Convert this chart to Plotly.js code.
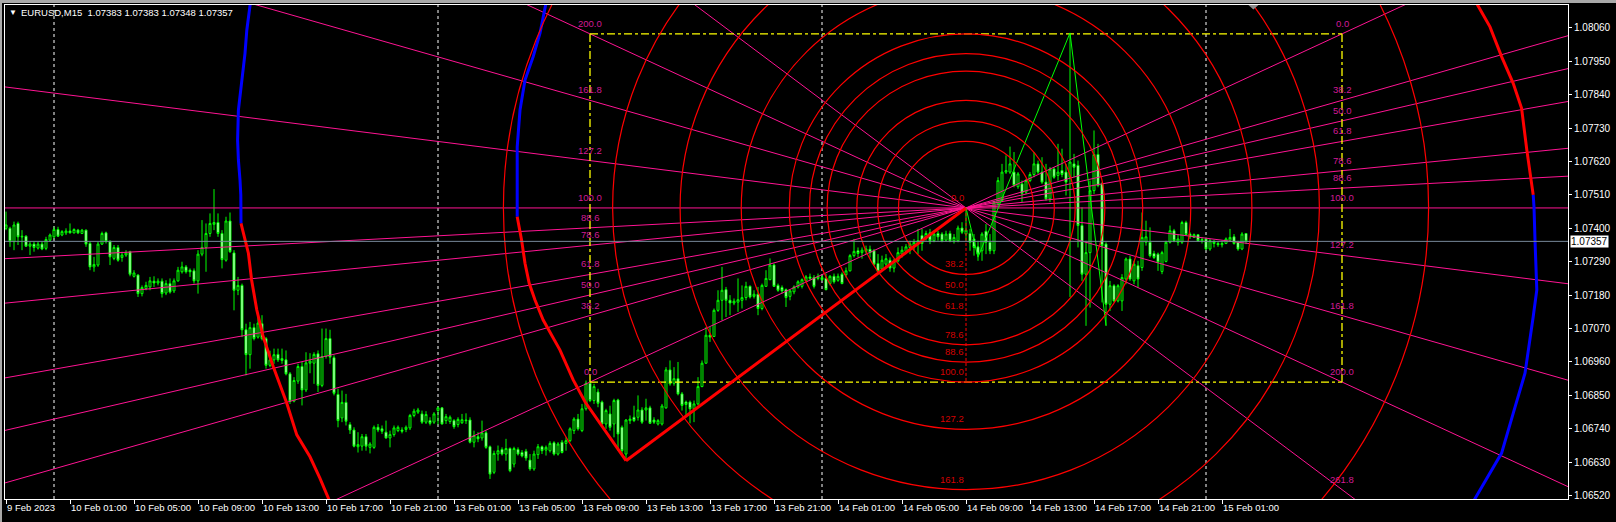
<!DOCTYPE html>
<html><head><meta charset="utf-8">
<script src="https://cdn.plot.ly/plotly-3.0.1.min.js"></script>
<style>html,body{margin:0;padding:0;background:#000;overflow:hidden}#chart{width:1616px;height:522px}</style>
</head><body><div id="chart"></div>
<script>
const SYMBOL = "EURUSD,M15";
const TICK_LABELS = ["9 Feb 2023","10 Feb 01:00","10 Feb 05:00","10 Feb 09:00","10 Feb 13:00","10 Feb 17:00","10 Feb 21:00","13 Feb 01:00","13 Feb 05:00","13 Feb 09:00","13 Feb 13:00","13 Feb 17:00","13 Feb 21:00","14 Feb 01:00","14 Feb 05:00","14 Feb 09:00","14 Feb 13:00","14 Feb 17:00","14 Feb 21:00","15 Feb 01:00"];
const TICK_STEP_BARS = 16;
const DAY_SEPARATOR_BARS = [12,108,204,300];

const OPEN = [
1.07400,1.07400,1.07356,1.07416,1.07374,1.07374,1.07341,1.07348,1.07335,1.07348,
1.07334,1.07361,1.07372,1.07396,1.07378,1.07385,1.07391,1.07385,1.07394,1.07383,
1.07394,1.07350,1.07273,1.07279,1.07348,1.07385,1.07356,1.07301,1.07337,1.07304,
1.07312,1.07323,1.07242,1.07246,1.07185,1.07202,1.07207,1.07226,1.07220,1.07226,
1.07187,1.07218,1.07194,1.07227,1.07257,1.07273,1.07262,1.07260,1.07227,1.07315,
1.07337,1.07383,1.07413,1.07419,1.07383,1.07295,1.07424,1.07319,1.07196,1.07212,
1.07066,1.06984,1.07073,1.07042,1.07086,1.07037,1.06949,1.06967,1.06985,1.06971,
1.06967,1.06921,1.06831,1.06897,1.06945,1.06868,1.06956,1.06956,1.06987,1.06883,
1.06978,1.07037,1.06974,1.06853,1.06776,1.06827,1.06754,1.06736,1.06681,1.06683,
1.06714,1.06679,1.06679,1.06745,1.06740,1.06729,1.06710,1.06721,1.06734,1.06736,
1.06738,1.06743,1.06784,1.06795,1.06789,1.06762,1.06767,1.06762,1.06800,1.06809,
1.06767,1.06764,1.06767,1.06754,1.06760,1.06769,1.06769,1.06696,1.06714,1.06710,
1.06727,1.06681,1.06597,1.06657,1.06672,1.06657,1.06675,1.06624,1.06672,1.06662,
1.06666,1.06637,1.06608,1.06655,1.06681,1.06670,1.06668,1.06694,1.06657,1.06696,
1.06692,1.06701,1.06734,1.06772,1.06734,1.06806,1.06890,1.06833,1.06861,1.06828,
1.06756,1.06789,1.06756,1.06835,1.06745,1.06657,1.06767,1.06778,1.06778,1.06802,
1.06802,1.06809,1.06769,1.06756,1.06756,1.06809,1.06934,1.06890,1.06905,1.06855,
1.06828,1.06828,1.06806,1.06822,1.06879,1.06956,1.07048,1.07044,1.07130,1.07163,
1.07198,1.07163,1.07154,1.07157,1.07163,1.07172,1.07209,1.07176,1.07183,1.07136,
1.07209,1.07231,1.07279,1.07212,1.07205,1.07198,1.07176,1.07191,1.07207,1.07209,
1.07227,1.07240,1.07238,1.07235,1.07238,1.07235,1.07218,1.07242,1.07229,1.07249,
1.07247,1.07260,1.07310,1.07326,1.07320,1.07324,1.07331,1.07326,1.07284,1.07266,
1.07282,1.07295,1.07269,1.07293,1.07315,1.07324,1.07337,1.07343,1.07350,1.07376,
1.07368,1.07385,1.07359,1.07383,1.07381,1.07361,1.07383,1.07359,1.07359,1.07401,
1.07381,1.07383,1.07365,1.07339,1.07326,1.07390,1.07354,1.07326,1.07480,1.07491,
1.07585,1.07585,1.07585,1.07537,1.07546,1.07519,1.07557,1.07577,1.07612,1.07585,
1.07552,1.07497,1.07595,1.07574,1.07590,1.07585,1.07568,1.07612,1.07607,1.07409,
1.07249,1.07320,1.07524,1.07643,1.07546,1.07348,1.07150,1.07211,1.07161,1.07161,
1.07233,1.07299,1.07227,1.07277,1.07271,1.07354,1.07354,1.07317,1.07315,1.07258,
1.07291,1.07354,1.07392,1.07354,1.07354,1.07419,1.07381,1.07370,1.07379,1.07359,
1.07365,1.07332,1.07357,1.07350,1.07346,1.07350,1.07361,1.07372,1.07354,1.07332,1.07383];
const HIGH = [
1.07455,1.07405,1.07422,1.07422,1.07394,1.07377,1.07356,1.07356,1.07356,1.07356,
1.07372,1.07383,1.07405,1.07405,1.07394,1.07400,1.07416,1.07400,1.07398,1.07398,
1.07396,1.07356,1.07306,1.07356,1.07389,1.07389,1.07361,1.07345,1.07345,1.07323,
1.07328,1.07326,1.07262,1.07249,1.07212,1.07224,1.07240,1.07242,1.07235,1.07235,
1.07229,1.07235,1.07235,1.07273,1.07290,1.07279,1.07268,1.07268,1.07328,1.07427,
1.07416,1.07449,1.07529,1.07449,1.07394,1.07438,1.07452,1.07328,1.07240,1.07218,
1.07086,1.07092,1.07086,1.07108,1.07114,1.07042,1.06997,1.07004,1.07004,1.07004,
1.06998,1.06927,1.06910,1.06954,1.06960,1.06992,1.06989,1.06992,1.06998,1.07070,
1.07070,1.07066,1.06982,1.06872,1.06866,1.06855,1.06762,1.06745,1.06729,1.06723,
1.06723,1.06696,1.06751,1.06756,1.06751,1.06767,1.06734,1.06751,1.06751,1.06745,
1.06751,1.06789,1.06806,1.06809,1.06800,1.06798,1.06778,1.06795,1.06813,1.06811,
1.06789,1.06784,1.06772,1.06778,1.06789,1.06791,1.06778,1.06734,1.06729,1.06767,
1.06734,1.06685,1.06668,1.06685,1.06679,1.06707,1.06679,1.06681,1.06679,1.06670,
1.06674,1.06657,1.06668,1.06690,1.06685,1.06685,1.06699,1.06699,1.06696,1.06703,
1.06712,1.06745,1.06778,1.06789,1.06822,1.06899,1.06899,1.06888,1.06872,1.06833,
1.06806,1.06816,1.06839,1.06839,1.06751,1.06772,1.06784,1.06816,1.06850,1.06811,
1.06839,1.06816,1.06778,1.06772,1.06822,1.06943,1.06965,1.06943,1.06960,1.06861,
1.06833,1.06833,1.06833,1.06910,1.06965,1.07075,1.07075,1.07136,1.07196,1.07273,
1.07207,1.07180,1.07169,1.07235,1.07212,1.07224,1.07212,1.07196,1.07207,1.07218,
1.07262,1.07301,1.07284,1.07218,1.07212,1.07202,1.07198,1.07212,1.07229,1.07235,
1.07246,1.07251,1.07246,1.07251,1.07246,1.07251,1.07246,1.07251,1.07251,1.07255,
1.07271,1.07315,1.07365,1.07337,1.07337,1.07343,1.07343,1.07332,1.07315,1.07310,
1.07315,1.07304,1.07299,1.07337,1.07341,1.07348,1.07359,1.07365,1.07398,1.07398,
1.07392,1.07398,1.07392,1.07392,1.07387,1.07392,1.07392,1.07381,1.07409,1.07420,
1.07467,1.07398,1.07381,1.07359,1.07387,1.07414,1.07381,1.07491,1.07568,1.07612,
1.07640,1.07669,1.07651,1.07585,1.07557,1.07563,1.07585,1.07651,1.07623,1.07634,
1.07612,1.07601,1.07601,1.07678,1.07662,1.07612,1.08043,1.07645,1.07623,1.07469,
1.07359,1.07557,1.07722,1.07678,1.07552,1.07354,1.07227,1.07216,1.07216,1.07249,
1.07304,1.07310,1.07293,1.07293,1.07452,1.07425,1.07403,1.07326,1.07320,1.07326,
1.07359,1.07409,1.07398,1.07381,1.07425,1.07425,1.07387,1.07383,1.07381,1.07370,
1.07370,1.07365,1.07361,1.07357,1.07359,1.07370,1.07398,1.07381,1.07359,1.07387,1.07383];
const LOW = [
1.07394,1.07339,1.07328,1.07345,1.07328,1.07339,1.07312,1.07323,1.07330,1.07328,
1.07328,1.07356,1.07367,1.07372,1.07374,1.07378,1.07383,1.07383,1.07381,1.07381,
1.07339,1.07262,1.07257,1.07273,1.07345,1.07350,1.07279,1.07295,1.07290,1.07290,
1.07306,1.07242,1.07238,1.07174,1.07176,1.07196,1.07196,1.07207,1.07212,1.07172,
1.07180,1.07185,1.07187,1.07224,1.07251,1.07251,1.07240,1.07218,1.07185,1.07308,
1.07257,1.07372,1.07394,1.07372,1.07268,1.07290,1.07319,1.07130,1.07180,1.07042,
1.06916,1.06938,1.07031,1.07037,1.07031,1.06938,1.06943,1.06954,1.06960,1.06954,
1.06916,1.06822,1.06827,1.06888,1.06817,1.06861,1.06923,1.06888,1.06861,1.06877,
1.06971,1.06954,1.06850,1.06745,1.06762,1.06751,1.06723,1.06679,1.06662,1.06668,
1.06668,1.06659,1.06674,1.06729,1.06723,1.06707,1.06679,1.06714,1.06729,1.06725,
1.06729,1.06736,1.06778,1.06789,1.06756,1.06756,1.06751,1.06756,1.06754,1.06754,
1.06756,1.06756,1.06740,1.06745,1.06756,1.06756,1.06692,1.06679,1.06696,1.06701,
1.06674,1.06575,1.06591,1.06635,1.06652,1.06635,1.06597,1.06613,1.06652,1.06646,
1.06635,1.06602,1.06602,1.06641,1.06657,1.06652,1.06662,1.06652,1.06652,1.06659,
1.06668,1.06696,1.06723,1.06734,1.06729,1.06800,1.06828,1.06822,1.06811,1.06751,
1.06740,1.06734,1.06712,1.06668,1.06657,1.06635,1.06756,1.06762,1.06767,1.06756,
1.06767,1.06756,1.06756,1.06751,1.06751,1.06806,1.06882,1.06882,1.06850,1.06800,
1.06784,1.06758,1.06762,1.06817,1.06877,1.06954,1.07026,1.07042,1.07125,1.07097,
1.07108,1.07114,1.07147,1.07125,1.07136,1.07163,1.07169,1.07169,1.07114,1.07130,
1.07207,1.07229,1.07207,1.07191,1.07185,1.07141,1.07163,1.07183,1.07202,1.07202,
1.07224,1.07229,1.07202,1.07229,1.07227,1.07196,1.07212,1.07218,1.07224,1.07216,
1.07238,1.07258,1.07304,1.07304,1.07300,1.07315,1.07304,1.07277,1.07255,1.07260,
1.07271,1.07257,1.07255,1.07288,1.07304,1.07315,1.07315,1.07326,1.07315,1.07326,
1.07359,1.07348,1.07354,1.07359,1.07354,1.07357,1.07354,1.07350,1.07354,1.07381,
1.07359,1.07326,1.07310,1.07293,1.07293,1.07315,1.07315,1.07315,1.07475,1.07486,
1.07579,1.07579,1.07535,1.07530,1.07486,1.07513,1.07552,1.07568,1.07579,1.07546,
1.07491,1.07486,1.07563,1.07557,1.07568,1.07508,1.07174,1.07568,1.07337,1.07227,
1.07079,1.07139,1.07513,1.07535,1.07156,1.07079,1.07128,1.07156,1.07156,1.07128,
1.07216,1.07227,1.07216,1.07205,1.07260,1.07343,1.07304,1.07299,1.07260,1.07249,
1.07288,1.07350,1.07354,1.07343,1.07348,1.07376,1.07365,1.07368,1.07357,1.07350,
1.07328,1.07326,1.07337,1.07339,1.07337,1.07348,1.07357,1.07346,1.07326,1.07328,1.07348];
const CLOSE = [
1.07411,1.07356,1.07411,1.07372,1.07372,1.07341,1.07348,1.07337,1.07348,1.07332,
1.07363,1.07378,1.07396,1.07374,1.07389,1.07391,1.07385,1.07396,1.07385,1.07394,
1.07348,1.07273,1.07281,1.07348,1.07383,1.07356,1.07306,1.07337,1.07295,1.07312,
1.07319,1.07249,1.07253,1.07185,1.07205,1.07212,1.07227,1.07220,1.07226,1.07185,
1.07218,1.07190,1.07227,1.07262,1.07273,1.07257,1.07257,1.07227,1.07315,1.07337,
1.07383,1.07416,1.07419,1.07383,1.07297,1.07424,1.07323,1.07196,1.07212,1.07066,
1.06984,1.07073,1.07037,1.07088,1.07037,1.06949,1.06967,1.06984,1.06967,1.06965,
1.06921,1.06831,1.06899,1.06945,1.06868,1.06957,1.06963,1.06985,1.06883,1.06978,
1.07037,1.06976,1.06857,1.06767,1.06827,1.06765,1.06736,1.06683,1.06688,1.06714,
1.06683,1.06690,1.06745,1.06736,1.06732,1.06710,1.06721,1.06743,1.06745,1.06732,
1.06745,1.06784,1.06798,1.06802,1.06762,1.06787,1.06758,1.06789,1.06809,1.06756,
1.06780,1.06778,1.06747,1.06771,1.06770,1.06767,1.06696,1.06718,1.06707,1.06727,
1.06679,1.06591,1.06659,1.06668,1.06657,1.06675,1.06602,1.06675,1.06657,1.06651,
1.06644,1.06608,1.06657,1.06681,1.06668,1.06679,1.06692,1.06657,1.06690,1.06662,
1.06701,1.06740,1.06772,1.06740,1.06806,1.06890,1.06833,1.06879,1.06824,1.06756,
1.06800,1.06745,1.06833,1.06723,1.06668,1.06769,1.06772,1.06767,1.06802,1.06762,
1.06809,1.06758,1.06762,1.06767,1.06815,1.06934,1.06888,1.06905,1.06855,1.06817,
1.06820,1.06806,1.06822,1.06879,1.06956,1.07048,1.07042,1.07130,1.07163,1.07196,
1.07163,1.07154,1.07160,1.07165,1.07172,1.07209,1.07174,1.07183,1.07136,1.07212,
1.07235,1.07279,1.07209,1.07196,1.07194,1.07172,1.07194,1.07207,1.07224,1.07231,
1.07240,1.07235,1.07209,1.07242,1.07231,1.07198,1.07242,1.07224,1.07242,1.07218,
1.07260,1.07310,1.07324,1.07317,1.07328,1.07332,1.07320,1.07282,1.07258,1.07295,
1.07300,1.07269,1.07291,1.07320,1.07328,1.07339,1.07348,1.07354,1.07359,1.07350,
1.07383,1.07359,1.07381,1.07372,1.07359,1.07381,1.07359,1.07370,1.07401,1.07387,
1.07394,1.07354,1.07337,1.07315,1.07381,1.07354,1.07326,1.07486,1.07557,1.07585,
1.07590,1.07612,1.07541,1.07579,1.07515,1.07557,1.07577,1.07612,1.07585,1.07552,
1.07497,1.07595,1.07568,1.07585,1.07577,1.07552,1.07618,1.07601,1.07409,1.07249,
1.07320,1.07524,1.07643,1.07541,1.07343,1.07150,1.07211,1.07161,1.07211,1.07238,
1.07299,1.07233,1.07282,1.07233,1.07370,1.07372,1.07310,1.07304,1.07288,1.07320,
1.07354,1.07392,1.07359,1.07365,1.07419,1.07379,1.07372,1.07379,1.07359,1.07363,
1.07332,1.07359,1.07350,1.07346,1.07350,1.07365,1.07370,1.07350,1.07332,1.07381,1.07357];

// Fibonacci fan / arcs
const FIB_LEVELS = [0,38.2,50,61.8,78.6,88.6,100,127.2,161.8,200,261.8];
const ARC_LEVELS = [38.2,50,61.8,78.6,88.6,100,127.2,161.8,200,261.8];
const ARC_LABEL_LEVELS = [0,38.2,50,61.8,78.6,88.6,100,127.2,161.8];
const FIB_BARS = [146,240,334];          // left edge, centre, right edge
const FIB_PRICES = [1.08040,1.07467];     // 0-level price, centre price
// trend & zigzag
const TREND_BARS = [155,240];
const TREND_PRICES = [1.06635,1.07467];
const ZIGZAG_BARS = [240,243,266,275];
const ZIGZAG_PRICES = [1.07467,1.07305,1.08043,1.07080];
// large drawn arcs
const INNER_BLUE_BARS = [135.25,133.5,131.8,129.75,128.5,127.8,127.8];
const INNER_BLUE_PRICES = [1.08158,1.08042,1.07965,1.07888,1.07789,1.07668,1.07438];
const INNER_RED_BARS = [127.8,128.9,129.75,130.8,132.25,134.3,138.5,141.8,144.75,150.2,155];
const INNER_RED_PRICES = [1.07438,1.07361,1.07285,1.07219,1.07164,1.07098,1.06999,1.06901,1.06829,1.06725,1.06635];
const LEFT_BLUE_BARS = [61.25,60.2,59.75,58.9,58.1,57.9,58.1,58.5,58.7,58.75];
const LEFT_BLUE_PRICES = [1.08158,1.08052,1.07976,1.07888,1.07789,1.07690,1.07625,1.07559,1.07510,1.07416];
const LEFT_RED_BARS = [58.75,60.6,61.4,62.7,64.3,66.8,70.2,72.7,76,78.5,81];
const LEFT_RED_PRICES = [1.07416,1.07318,1.07230,1.07131,1.07043,1.06945,1.06824,1.06720,1.06648,1.06577,1.06499];
const RIGHT_RED_BARS = [367.25,367.9,371,373.9,376.8,378.9,380.2,381.8];
const RIGHT_RED_PRICES = [1.08158,1.08135,1.08063,1.07965,1.07877,1.07795,1.07658,1.07510];
const RIGHT_BLUE_BARS = [381.8,382,382.25,382.7,381.8,380.6,379.75,376.8,373.9,366.75];
const RIGHT_BLUE_PRICES = [1.07510,1.07471,1.07361,1.07197,1.07109,1.06999,1.06923,1.06791,1.06660,1.06499];

// ---------- layout geometry ----------
const W = 1616, H = 522;
const M = {l:5, r:48, t:5, b:23};
const X_RANGE = [-0.25, 390.5];
const Y_RANGE = [1.06509, 1.08135];
const pxPerBar = (W - M.l - M.r) / (X_RANGE[1] - X_RANGE[0]);
const pxPerPrice = (H - M.t - M.b) / (Y_RANGE[1] - Y_RANGE[0]);
const FONT = "Liberation Sans, Arial, sans-serif";
const FAN_COLOR = "#FF1493", FAN_TEXT = "#D21A96";
const ARC_COLOR = "#FF0000", ARC_TEXT = "#D40000";

const xs = OPEN.map((_, i) => i);
const traces = [];
traces.push({
  type: "candlestick", x: xs, open: OPEN, high: HIGH, low: LOW, close: CLOSE,
  increasing: {line: {color: "#00FF00", width: 1}, fillcolor: "#000000"},
  decreasing: {line: {color: "#00FF00", width: 1}, fillcolor: "#FFFFFF"},
  whiskerwidth: 0, showlegend: false, hoverinfo: "skip"
});

const [fL, fC, fR] = FIB_BARS;
const [pTop, pC] = FIB_PRICES;
const ry = pTop - pC;
const pBot = pC - ry;
const annotations = [];

FIB_LEVELS.forEach(L => {
  const pR = pTop + L / 100 * (pC - pTop);
  const slope = (pR - pC) / (fR - fC);
  const x0 = X_RANGE[0] - 5, x1 = X_RANGE[1] + 5;
  traces.push({type: "scatter", mode: "lines", x: [x0, x1],
    y: [pC + slope * (x0 - fC), pC + slope * (x1 - fC)],
    line: {color: FAN_COLOR, width: 1}, showlegend: false, hoverinfo: "skip"});
  const txt = L.toFixed(1);
  if (pR > Y_RANGE[0] + 0.0002 && pR < Y_RANGE[1] - 0.0003)
    annotations.push({x: fR, y: pR, xref: "x", yref: "y", text: txt, showarrow: false,
      xanchor: "center", yanchor: "bottom", yshift: 3, font: {family: FONT, size: 9.5, color: FAN_TEXT}});
  const pLft = pC + slope * (fL - fC);
  if (pLft > Y_RANGE[0] + 0.0002 && pLft < Y_RANGE[1] - 0.0003)
    annotations.push({x: fL, y: pLft, xref: "x", yref: "y", text: txt, showarrow: false,
      xanchor: "center", yanchor: "bottom", yshift: 3, font: {family: FONT, size: 9.5, color: FAN_TEXT}});
});

// yellow dash-dot frame
const dashdot = "8px,3px,3px,3px";
[[[fL, fR], [pTop, pTop]], [[fL, fR], [pBot, pBot]], [[fL, fL], [pBot, pTop]], [[fR, fR], [pBot, pTop]]].forEach(s => {
  traces.push({type: "scatter", mode: "lines", x: s[0], y: s[1],
    line: {color: "#FFFF00", width: 1.3, dash: dashdot}, showlegend: false, hoverinfo: "skip"});
});

function path(xa, ya, color, width) {
  traces.push({type: "scatter", mode: "lines", x: xa, y: ya,
    line: {color: color, width: width}, showlegend: false, hoverinfo: "skip"});
}
path(LEFT_BLUE_BARS, LEFT_BLUE_PRICES, "#0000FF", 3);
path(LEFT_RED_BARS, LEFT_RED_PRICES, "#FF0000", 3);
path(INNER_BLUE_BARS, INNER_BLUE_PRICES, "#0000FF", 3);
path(INNER_RED_BARS, INNER_RED_PRICES, "#FF0000", 3);
path(RIGHT_RED_BARS, RIGHT_RED_PRICES, "#FF0000", 3);
path(RIGHT_BLUE_BARS, RIGHT_BLUE_PRICES, "#0000FF", 3);
path(TREND_BARS, TREND_PRICES, "#FF0000", 3);
path(ZIGZAG_BARS, ZIGZAG_PRICES, "#00FF00", 1);

// shapes
const shapes = [];
DAY_SEPARATOR_BARS.forEach(b => shapes.push({type: "line", xref: "x", yref: "paper", x0: b, x1: b, y0: 0, y1: 1,
  line: {color: "#FFFFFF", width: 1, dash: "3px,3px"}, layer: "below"}));
const rxPerPrice = pxPerPrice / pxPerBar * 1.015;
ARC_LEVELS.forEach(L => {
  const r = L / 100 * ry;
  shapes.push({type: "circle", xref: "x", yref: "y",
    x0: fC - r * rxPerPrice, x1: fC + r * rxPerPrice, y0: pC - r, y1: pC + r,
    line: {color: ARC_COLOR, width: 1.2}, layer: "above"});
});
shapes.push({type: "line", xref: "x", yref: "y", x0: fC, x1: fC, y0: pC, y1: pBot,
  line: {color: ARC_COLOR, width: 1, dash: "3px,2px"}, layer: "above"});
ARC_LABEL_LEVELS.forEach(L => {
  const y = pC - L / 100 * ry;
  if (y > Y_RANGE[0] + 0.0002)
    annotations.push({x: fC, y: y, xref: "x", yref: "y", text: L.toFixed(1), showarrow: false,
      xanchor: "right", yanchor: "bottom", yshift: 3, font: {family: FONT, size: 9.5, color: ARC_TEXT}});
});

const last = CLOSE.length - 1;
shapes.push({type: "line", xref: "paper", yref: "y", x0: 0, x1: 1, y0: CLOSE[last], y1: CLOSE[last],
  line: {color: "#778899", width: 1}, layer: "above"});
// chart-shift marker
shapes.push({type: "path", xref: "x", yref: "paper", path: "M 310.6 1 L 313.1 1 L 311.85 0.991 Z",
  fillcolor: "#8c8c8c", line: {width: 0}, layer: "above"});
// window border strips
const pw = W - M.l - M.r, ph = H - M.t - M.b;
shapes.push({type: "rect", xref: "paper", yref: "paper", x0: -M.l / pw, x1: (W - M.l) / pw,
  y0: 1 + 2 / ph, y1: 1 + M.t / ph, fillcolor: "#a8a8a8", line: {width: 0}, layer: "above"});
shapes.push({type: "rect", xref: "paper", yref: "paper", x0: -M.l / pw, x1: -3 / pw,
  y0: -M.b / ph, y1: 1 + M.t / ph, fillcolor: "#a8a8a8", line: {width: 0}, layer: "above"});

// header and price tag
const f5 = v => v.toFixed(5);
annotations.push({xref: "paper", yref: "paper", x: 0, y: 1, xanchor: "left", yanchor: "middle", xshift: 2, yshift: -7,
  text: "▼", showarrow: false, font: {family: FONT, size: 8, color: "#FFFFFF"}});
annotations.push({xref: "paper", yref: "paper", x: 0, y: 1, xanchor: "left", yanchor: "middle", xshift: 14, yshift: -7,
  text: `${SYMBOL}  ${f5(OPEN[last])} ${f5(HIGH[last])} ${f5(LOW[last])} ${f5(CLOSE[last])}`,
  showarrow: false, font: {family: FONT, size: 9.5, color: "#FFFFFF"}});
annotations.push({xref: "paper", yref: "y", x: 1, y: CLOSE[last], xanchor: "left", yanchor: "middle", xshift: 2,
  text: f5(CLOSE[last]), showarrow: false, bgcolor: "#FFFFFF", borderpad: 0,
  font: {family: FONT, size: 10, color: "#000000"}});

const layout = {
  width: W, height: H, margin: {l: M.l, r: M.r, t: M.t, b: M.b, pad: 0},
  paper_bgcolor: "#000000", plot_bgcolor: "#000000", showlegend: false, hovermode: false,
  xaxis: {type: "linear", range: X_RANGE, rangeslider: {visible: false}, showgrid: false, zeroline: false,
    tickmode: "array", tickvals: TICK_LABELS.map((_, i) => i * TICK_STEP_BARS), ticktext: TICK_LABELS,
    ticks: "outside", ticklen: 4, tickcolor: "#FFFFFF", ticklabelposition: "outside right", tickangle: 0,
    tickfont: {family: FONT, size: 9.5, color: "#FFFFFF"},
    showline: true, linecolor: "#FFFFFF", linewidth: 1, mirror: true},
  yaxis: {range: Y_RANGE, side: "right", showgrid: false, zeroline: false,
    tickmode: "linear", tick0: 1.0652, dtick: 0.0011, tickformat: ".5f",
    ticks: "outside", ticklen: 3, tickcolor: "#FFFFFF",
    tickfont: {family: FONT, size: 10, color: "#FFFFFF"},
    showline: true, linecolor: "#FFFFFF", linewidth: 1, mirror: true},
  shapes: shapes, annotations: annotations
};
Plotly.newPlot("chart", traces, layout, {staticPlot: true, displayModeBar: false});
</script></body></html>
